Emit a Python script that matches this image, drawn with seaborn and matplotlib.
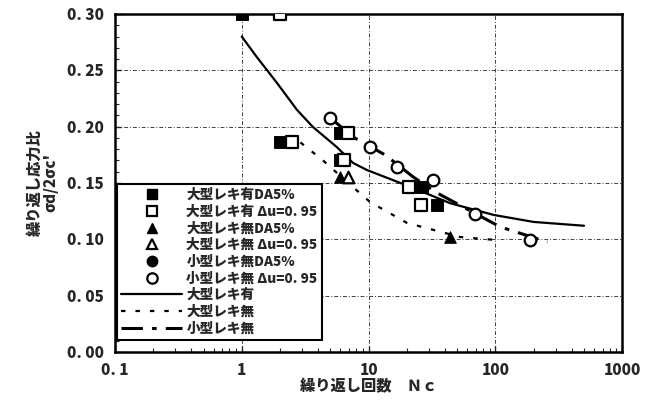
import numpy as np
import pandas as pd
import matplotlib
matplotlib.use("Agg")
import matplotlib.pyplot as plt
import seaborn as sns
from matplotlib.lines import Line2D
from matplotlib.ticker import FixedLocator, FixedFormatter, LogLocator, MultipleLocator, NullFormatter

# ---- data ----
sq_fill_N = [1.0, 2.0, 5.95, 5.95, 26.5, 34.8]
sq_fill_y = [0.300, 0.186, 0.194, 0.170, 0.146, 0.130]
sq_open_N = [2.0, 2.47, 6.9, 6.4, 20.9, 26.0]
sq_open_y = [0.300, 0.186, 0.194, 0.170, 0.146, 0.130]
tri_fill_N = [5.95, 44.1]
tri_fill_y = [0.155, 0.102]
tri_open_N = [6.9]
tri_open_y = [0.155]
cir_fill_N = [5.0, 16.8]
cir_fill_y = [0.208, 0.164]
cir_open_N = [4.97, 10.3, 16.8, 32.3, 69.5, 189.0]
cir_open_y = [0.208, 0.182, 0.164, 0.153, 0.122, 0.099]

solid_N = [1.0, 1.31, 1.89, 2.72, 3.64, 5.6, 7.54, 9.7, 17.8, 22.5, 44.0, 97.0, 200.0, 500.0]
solid_y = [0.280, 0.262, 0.239, 0.215, 0.1997, 0.182, 0.1678, 0.1615, 0.150, 0.1455,
           0.132, 0.1216, 0.1154, 0.112]
dot_N = [2.9, 4.37, 6.75, 10.3, 20.1, 52.8, 110.0]
dot_y = [0.186, 0.170, 0.151, 0.133, 0.1145, 0.102, 0.099]
dash_N = [4.97, 7.54, 13.5, 22.5, 34.7, 44.0, 109.0, 257.0]
dash_y = [0.208, 0.1908, 0.1749, 0.1553, 0.1411, 0.1349, 0.111, 0.0976]

labels_pts = ["大型レキ有DA5%", "大型レキ有 Δu=0. 95", "大型レキ無DA5%",
              "大型レキ無 Δu=0. 95", "小型レキ無DA5%", "小型レキ無 Δu=0. 95"]
labels_lines = ["大型レキ有", "大型レキ無", "小型レキ無"]
xtick_vals = [0.1, 1, 10, 100, 1000]
xtick_labels = ["0. 1", "1", "10", "100", "1000"]
ytick_vals = [0.00, 0.05, 0.10, 0.15, 0.20, 0.25, 0.30]
ytick_labels = ["0. 00", "0. 05", "0. 10", "0. 15", "0. 20", "0. 25", "0. 30"]

sns.set_theme(style="white")
plt.rcParams['font.family'] = ['Noto Sans CJK JP', 'DejaVu Sans']
plt.rcParams['font.weight'] = 'heavy'

fig, ax = plt.subplots(figsize=(6.57, 4.13), dpi=100)
fig.subplots_adjust(left=0.175, right=0.947, top=0.966, bottom=0.148)

lw = 1.6
sns.lineplot(x=solid_N, y=solid_y, ax=ax, color="black", lw=lw, sort=False,
             estimator=None, linestyle="-")
sns.lineplot(x=dot_N, y=dot_y, ax=ax, color="black", lw=lw, sort=False,
             estimator=None, linestyle=(0, (2, 4.5)))
sns.lineplot(x=dash_N, y=dash_y, ax=ax, color="black", lw=2.2, sort=False,
             estimator=None, linestyle=(0, (7, 3, 1.5, 3)))

ms = 70
sns.scatterplot(x=cir_fill_N, y=cir_fill_y, ax=ax, marker="o", color="black",
                edgecolor="black", s=ms, zorder=5)
sns.scatterplot(x=cir_open_N, y=cir_open_y, ax=ax, marker="o", color="white",
                edgecolor="black", linewidth=1.6, s=ms, zorder=6)
sns.scatterplot(x=sq_fill_N, y=sq_fill_y, ax=ax, marker="s", color="black",
                edgecolor="black", s=ms, zorder=5)
sns.scatterplot(x=sq_open_N, y=sq_open_y, ax=ax, marker="s", color="white",
                edgecolor="black", linewidth=1.6, s=ms, zorder=6)
sns.scatterplot(x=tri_fill_N, y=tri_fill_y, ax=ax, marker="^", color="black",
                edgecolor="black", s=ms, zorder=5)
sns.scatterplot(x=tri_open_N, y=tri_open_y, ax=ax, marker="^", color="white",
                edgecolor="black", linewidth=1.6, s=ms, zorder=6)

ax.set_xscale("log")
ax.set_xlim(0.1, 1000)
ax.set_ylim(0, 0.30)
ax.xaxis.set_major_locator(FixedLocator(xtick_vals))
ax.xaxis.set_major_formatter(FixedFormatter(xtick_labels))
ax.xaxis.set_minor_locator(LogLocator(base=10, subs=np.arange(2, 10)))
ax.xaxis.set_minor_formatter(NullFormatter())
ax.yaxis.set_major_locator(FixedLocator(ytick_vals))
ax.yaxis.set_major_formatter(FixedFormatter(ytick_labels))
ax.yaxis.set_minor_locator(MultipleLocator(0.01))

ax.tick_params(axis="both", which="both", direction="in", left=True, bottom=True,
               top=False, right=False, labelsize=11, pad=8)
ax.tick_params(which="major", length=4, width=1)
ax.tick_params(which="minor", length=3, width=0.8)
for lab in ax.get_xticklabels() + ax.get_yticklabels():
    lab.set_fontweight("heavy")

ax.grid(True, which="major", color="0.25", lw=0.7, linestyle=(0, (4, 2, 1, 2)))
for sp in ax.spines.values():
    sp.set_visible(True)
    sp.set_color("black")
    sp.set_linewidth(1.8)

ax.set_xlabel("繰り返し回数　Ｎｃ", fontsize=11, fontweight="heavy", labelpad=1)
ax.set_ylabel("繰り返し応力比\nσd/2σc'", fontsize=11, fontweight="heavy",
              labelpad=6, linespacing=1.05)

handles = [
    Line2D([], [], ls="none", marker="s", mfc="black", mec="black", ms=7.5),
    Line2D([], [], ls="none", marker="s", mfc="white", mec="black", mew=1.6, ms=7.5),
    Line2D([], [], ls="none", marker="^", mfc="black", mec="black", ms=7.5),
    Line2D([], [], ls="none", marker="^", mfc="white", mec="black", mew=1.6, ms=7.5),
    Line2D([], [], ls="none", marker="o", mfc="black", mec="black", ms=7.5),
    Line2D([], [], ls="none", marker="o", mfc="white", mec="black", mew=1.6, ms=7.5),
    Line2D([], [], color="black", lw=lw, ls="-"),
    Line2D([], [], color="black", lw=lw, ls=(0, (2, 4.5))),
    Line2D([], [], color="black", lw=2.2, ls=(0, (7, 3, 1.5, 3))),
]
leg = ax.legend(handles, labels_pts + labels_lines, loc="lower left",
                bbox_to_anchor=(0.004, 0.036), fontsize=9.8, frameon=True,
                fancybox=False, edgecolor="black", framealpha=1,
                handlelength=4.5, handletextpad=0.3, labelspacing=0.2,
                borderpad=0.3, borderaxespad=0)
leg.get_frame().set_linewidth(1.5)
for t in leg.get_texts():
    t.set_fontweight("heavy")

fig.savefig("out.png", dpi=100)
